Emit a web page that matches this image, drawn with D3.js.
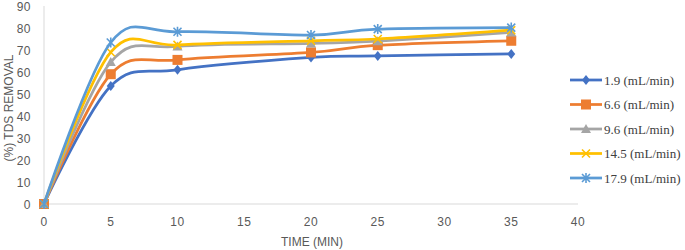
<!DOCTYPE html>
<html><head><meta charset="utf-8">
<script src="https://cdn.jsdelivr.net/npm/d3@7"></script>
<style>body{margin:0;background:#fff}</style>
</head><body><svg id="c" width="685" height="250"></svg>
<script>
const times = [0, 5, 10, 20, 25, 35];
const seriesNames = ["1.9 (mL/min)", "6.6 (mL/min)", "9.6 (mL/min)", "14.5 (mL/min)", "17.9 (mL/min)"];
const s19 = [0, 53.6, 61, 66.6, 67.3, 68.2];
const s66 = [0, 59, 65.5, 68.9, 72.2, 74.2];
const s96 = [0, 64.5, 71.6, 73, 74, 78];
const s145 = [0, 69, 72.3, 74.2, 75, 79];
const s179 = [0, 73.4, 78.3, 76.8, 79.5, 80.2];
const xTicks = [0, 5, 10, 15, 20, 25, 30, 35, 40];
const yTicks = [0, 10, 20, 30, 40, 50, 60, 70, 80, 90];
const colors = ["#4472C4", "#ED7D31", "#A5A5A5", "#FFC000", "#5B9BD5"];
const markers = ["diamond", "square", "triangle", "x", "star"];
const allSeries = [s19, s66, s96, s145, s179];

const svg = d3.select("#c");
const x = d3.scaleLinear().domain([0, 40]).range([44, 578]);
const y = d3.scaleLinear().domain([0, 90]).range([204, 6]);

svg.append("line").attr("x1", x(0)).attr("x2", x(40)).attr("y1", y(0)).attr("y2", y(0)).attr("stroke", "#d9d9d9").attr("stroke-width", 1);
svg.append("line").attr("x1", x(0)).attr("x2", x(0)).attr("y1", y(0)).attr("y2", y(90)).attr("stroke", "#d9d9d9").attr("stroke-width", 1);

const tickFont = "Liberation Sans, Arial, sans-serif";
svg.append("g").selectAll("text").data(yTicks).join("text")
  .attr("x", 31).attr("y", d => y(d) + 4.5).attr("text-anchor", "end")
  .attr("font-family", tickFont).attr("font-size", 12).attr("fill", "#595959").attr("letter-spacing", 0.5)
  .text(d => d);
svg.append("g").selectAll("text").data(xTicks).join("text")
  .attr("x", d => x(d)).attr("y", 226).attr("text-anchor", "middle")
  .attr("font-family", tickFont).attr("font-size", 12).attr("fill", "#595959").attr("letter-spacing", 0.5)
  .text(d => d);

svg.append("text").attr("x", 312).attr("y", 246).attr("text-anchor", "middle")
  .attr("font-family", tickFont).attr("font-size", 12).attr("fill", "#595959").text("TIME (MIN)");
svg.append("text").attr("transform", "translate(13,108) rotate(-90)").attr("text-anchor", "middle")
  .attr("font-family", tickFont).attr("font-size", 12).attr("fill", "#595959").text("(%) TDS REMOVAL");

const line = d3.line().x((d, i) => x(times[i])).y(d => y(d)).curve(d3.curveCardinal.tension(0));

function drawMarker(g, type, cx, cy, color) {
  const s = 4;
  if (type === "diamond") {
    g.append("path").attr("d", `M${cx},${cy-s-1}L${cx+s},${cy}L${cx},${cy+s+1}L${cx-s},${cy}Z`).attr("fill", color);
  } else if (type === "square") {
    g.append("rect").attr("x", cx - s - 1).attr("y", cy - s - 1).attr("width", 2*s + 2).attr("height", 2*s + 2).attr("fill", color);
  } else if (type === "triangle") {
    g.append("path").attr("d", `M${cx},${cy-s-1}L${cx+s+1},${cy+s}L${cx-s-1},${cy+s}Z`).attr("fill", color);
  } else if (type === "x") {
    g.append("path").attr("d", `M${cx-s},${cy-s}L${cx+s},${cy+s}M${cx-s},${cy+s}L${cx+s},${cy-s}`).attr("stroke", color).attr("stroke-width", 1.6);
  } else if (type === "star") {
    g.append("path").attr("d", `M${cx-s},${cy-s}L${cx+s},${cy+s}M${cx-s},${cy+s}L${cx+s},${cy-s}M${cx},${cy-s-1}L${cx},${cy+s+1}`).attr("stroke", color).attr("stroke-width", 1.6);
  }
}

allSeries.forEach((vals, k) => {
  const g = svg.append("g");
  g.append("path").attr("d", line(vals)).attr("fill", "none").attr("stroke", colors[k]).attr("stroke-width", 2.75);
  vals.forEach((v, i) => drawMarker(g, markers[k], x(times[i]), y(v), colors[k]));
});

const lg = svg.append("g");
seriesNames.forEach((name, k) => {
  const ly = [80, 104.5, 129, 153.5, 178][k];
  lg.append("line").attr("x1", 570).attr("x2", 602).attr("y1", ly).attr("y2", ly).attr("stroke", colors[k]).attr("stroke-width", 2.75);
  drawMarker(lg, markers[k], 586, ly, colors[k]);
  lg.append("text").attr("x", 604).attr("y", ly + 4.5)
    .style("font-family", "'Times New Roman', 'Liberation Serif', 'DejaVu Serif', serif")
    .style("font-size", "13px").attr("fill", "#404040").text(name);
});
</script></body></html>
